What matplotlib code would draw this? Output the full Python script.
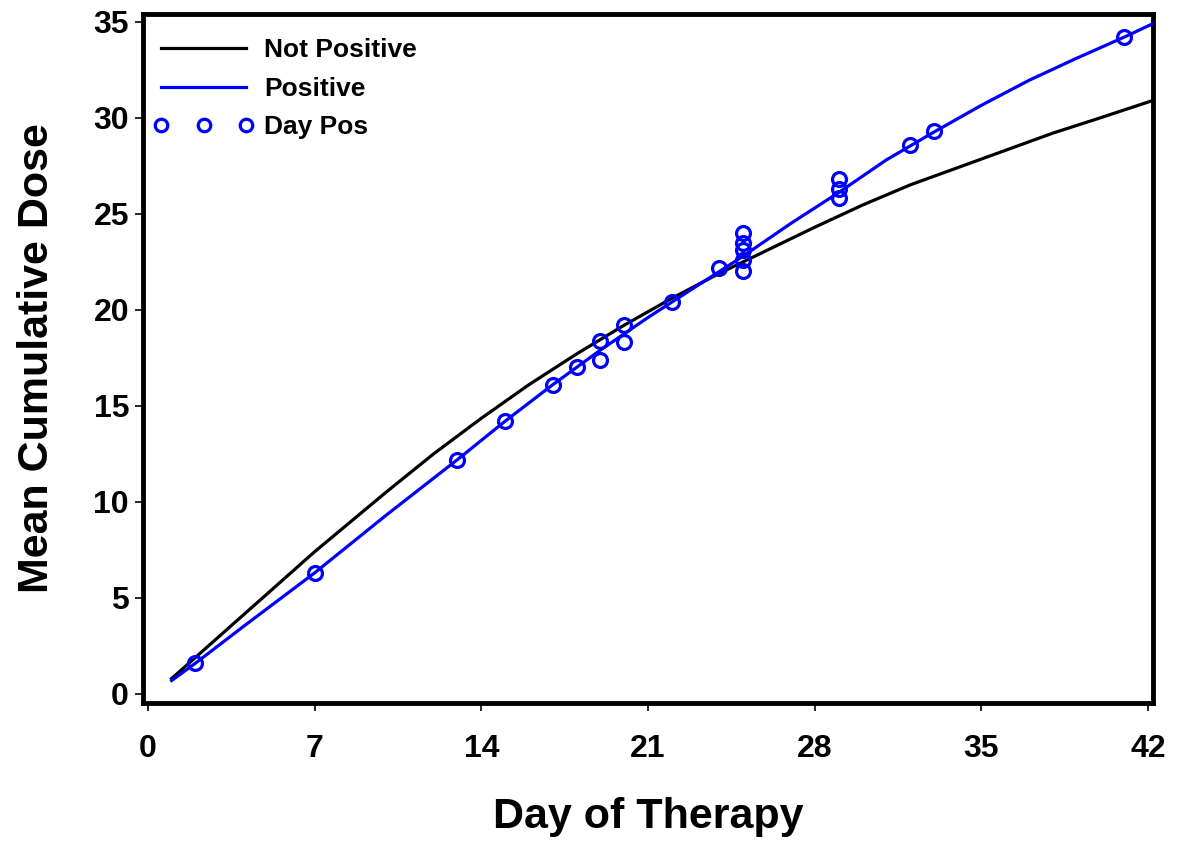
import matplotlib
matplotlib.use("Agg")
import matplotlib.pyplot as plt
from matplotlib.lines import Line2D

plt.rcParams['font.family'] = ['Liberation Sans', 'DejaVu Sans']

# Not Positive curve
np_days = [1, 2, 4, 7, 10, 12, 14, 16, 18, 20, 22, 24, 26, 28, 30, 32, 34, 36, 38, 40, 42.2]
np_vals = [0.8, 1.9, 4.1, 7.4, 10.5, 12.5, 14.35, 16.1, 17.7, 19.2, 20.6, 21.9, 23.1, 24.3,
           25.45, 26.5, 27.4, 28.3, 29.2, 30.0, 30.9]

# Positive curve
pos_days = [1, 2, 4, 7, 10, 13, 15, 17, 19, 21, 22, 24, 25, 27, 29, 31, 33, 35, 37, 39, 41, 42.2]
pos_vals = [0.7, 1.6, 3.5, 6.3, 9.3, 12.2, 14.2, 16.1, 17.9, 19.6, 20.4, 22.0, 22.8, 24.5,
            26.1, 27.8, 29.25, 30.65, 31.95, 33.1, 34.2, 34.9]

# Day Pos markers
dp_days = [2, 7, 13, 15, 17, 18, 19, 19, 20, 20, 22, 24,
           25, 25, 25, 25, 25, 29, 29, 29, 32, 33, 41]
dp_vals = [1.6, 6.3, 12.2, 14.2, 16.1, 17.0, 18.4, 17.4, 19.2, 18.3, 20.4, 22.2,
           24.0, 23.5, 23.1, 22.6, 22.0, 26.8, 26.3, 25.8, 28.6, 29.3, 34.2]

x_ticks = [0, 7, 14, 21, 28, 35, 42]
y_ticks = [0, 5, 10, 15, 20, 25, 30, 35]

fig = plt.figure(figsize=(11.85, 8.44), dpi=100)
ax = fig.add_axes([143/1185, 1-703/844, (1153-143)/1185, (703-14)/844])

blue = (0, 0, 1)
ax.plot(np_days, np_vals, color='black', lw=2.3, zorder=3)
ax.plot(pos_days, pos_vals, color=blue, lw=2.3, zorder=4)
ax.plot(dp_days, dp_vals, linestyle='none', marker='o', ms=10, mfc='none',
        mec=blue, mew=2.3, zorder=5)

ax.set_xlim(-0.2, 42.2)
ax.set_ylim(-0.47, 35.4)
ax.set_xticks(x_ticks)
ax.set_yticks(y_ticks)
ax.tick_params(direction='out', length=6, width=1.2, labelsize=23, pad=16, axis='x')
ax.tick_params(direction='out', length=6, width=1.2, labelsize=23, pad=4, axis='y')
for lab in ax.get_xticklabels() + ax.get_yticklabels():
    lab.set_fontweight('bold')
for s in ax.spines.values():
    s.set_linewidth(3.5)

ax.set_xlabel('Day of Therapy', fontsize=31, fontweight='bold', labelpad=24)
ax.set_ylabel('Mean Cumulative Dose', fontsize=31, fontweight='bold', labelpad=26)

handles = [
    Line2D([], [], color='black', lw=2.3),
    Line2D([], [], color=blue, lw=2.3),
    Line2D([], [], linestyle='none', marker='o', ms=9, mfc='none', mec=blue, mew=2.3),
]
leg = ax.legend(handles, ['Not Positive', 'Positive', 'Day Pos'], loc='upper left',
                frameon=False, prop={'weight': 'bold', 'size': 19},
                handlelength=3.8, handletextpad=0.4, labelspacing=0.55,
                numpoints=3, borderaxespad=0.0, bbox_to_anchor=(0.0, 0.98))

fig.savefig('out.png', dpi=100)
